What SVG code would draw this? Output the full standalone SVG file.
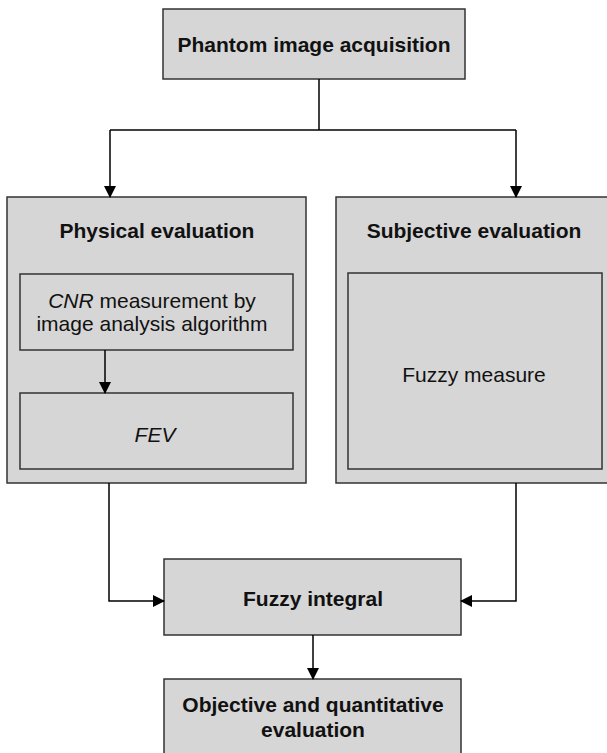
<svg xmlns="http://www.w3.org/2000/svg" width="607" height="753" viewBox="0 0 607 753">
<style>
.box{fill:#d6d6d6;stroke:#333;stroke-width:1.5}
.t{font-family:"Liberation Sans",Arial,sans-serif;fill:#111;text-anchor:middle}
.b{font-weight:bold;font-size:21px}
.n{font-size:21px}
.c{fill:none;stroke:#000;stroke-width:1.5}
</style>
<defs>
<marker id="ah" markerWidth="12" markerHeight="12" refX="11" refY="6" orient="auto" markerUnits="userSpaceOnUse">
<path d="M0,0 L12,6 L0,12 Z" fill="#000"/>
</marker>
</defs>
<rect width="607" height="753" fill="#fff"/>
<g id="acq"><rect class="box" x="163" y="9" width="302" height="70"/><text class="t b" x="314" y="52">Phantom image acquisition</text></g>
<g id="phys"><rect class="box" x="7" y="197" width="299" height="286"/><text class="t b" x="157" y="238">Physical evaluation</text></g>
<g id="cnr"><rect class="box" x="20" y="274" width="273" height="76"/><text class="t n" x="152" y="308"><tspan font-style="italic">CNR</tspan> measurement by</text><text class="t n" x="152" y="331">image analysis algorithm</text></g>
<g id="fev"><rect class="box" x="20" y="393" width="273" height="76"/><text class="t n" x="155" y="442" font-style="italic">FEV</text></g>
<g id="subj"><rect class="box" x="336" y="197" width="275" height="286"/><text class="t b" x="474" y="238">Subjective evaluation</text></g>
<g id="fm"><rect class="box" x="348" y="273" width="254" height="196"/><text class="t n" x="474" y="382">Fuzzy measure</text></g>
<g id="fi"><rect class="box" x="164" y="559" width="297" height="76"/><text class="t b" x="313" y="606">Fuzzy integral</text></g>
<g id="obj"><rect class="box" x="164" y="679" width="297" height="80"/><text class="t b" x="313" y="712">Objective and quantitative</text><text class="t b" x="313" y="737">evaluation</text></g>
<g id="connectors">
<path class="c" d="M319,79 V130"/>
<path class="c" d="M110,130 H516"/>
<path class="c" d="M110,130 V197" marker-end="url(#ah)"/>
<path class="c" d="M516,130 V197" marker-end="url(#ah)"/>
<path class="c" d="M105,350 V393" marker-end="url(#ah)"/>
<path class="c" d="M109,483 V601 H164" marker-end="url(#ah)"/>
<path class="c" d="M516,483 V601 H461" marker-end="url(#ah)"/>
<path class="c" d="M313,635 V679" marker-end="url(#ah)"/>
</g>
</svg>
